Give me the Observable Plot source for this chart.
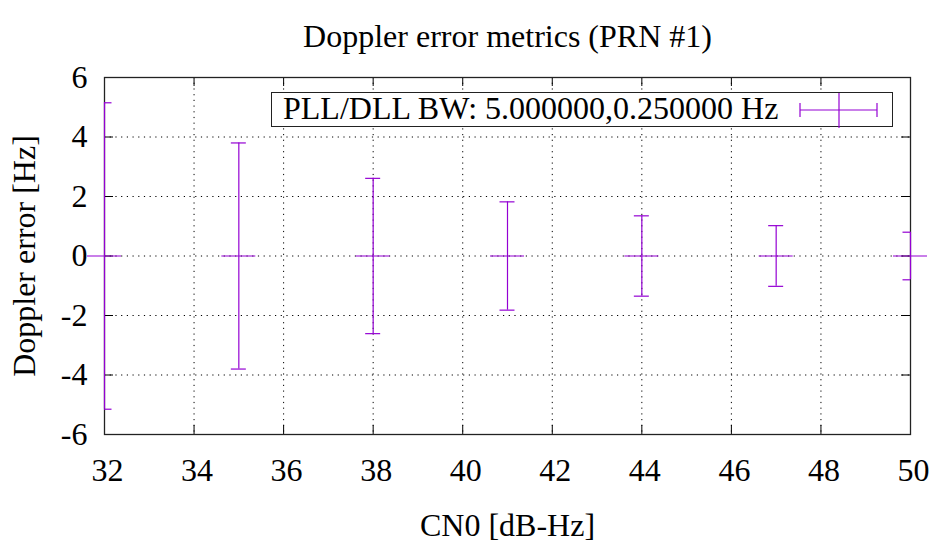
<!DOCTYPE html>
<html>
<head>
<meta charset="utf-8">
<script src="https://cdn.jsdelivr.net/npm/d3@7"></script>
<script src="https://cdn.jsdelivr.net/npm/@observablehq/plot@0.6"></script>
<style>
  html, body { margin: 0; padding: 0; background: #fff; }
  #wrap { position: relative; width: 932px; height: 542px; font-family: "Liberation Serif", "DejaVu Serif", serif; }
  #legend { position: absolute; left: 271px; top: 92px; width: 622px; height: 35px; border: 1.3px solid #222; background: #fff; box-sizing: border-box; }
  #legend span { position: absolute; left: 11px; top: -3px; font-size: 32px; line-height: 36px; color: #000; white-space: nowrap; }
  #legend svg { position: absolute; left: 526px; top: -1px; }
</style>
</head>
<body>
<div id="wrap"></div>
<script>
// ---- data ----
const cn0 = [32, 35, 38, 41, 44, 47, 50];
const meanErr = [0, 0, 0, 0, 0, 0, 0];
const stdErr = [5.15, 3.80, 2.61, 1.82, 1.35, 1.02, 0.80];
const xTicks = [32, 34, 36, 38, 40, 42, 44, 46, 48, 50];
const yTicks = [-6, -4, -2, 0, 2, 4, 6];
const titleText = "Doppler error metrics (PRN #1)";
const xLabel = "CN0 [dB-Hz]";
const yLabel = "Doppler error [Hz]";
const legendText = "PLL/DLL BW: 5.000000,0.250000 Hz";

const data = cn0.map((x, i) => ({x, m: meanErr[i], s: stdErr[i]}));

const W = 932, H = 542;
const mL = 104, mR = 22, mT = 77, mB = 108;
const innerW = W - mL - mR, innerH = H - mT - mB;
const color = "#9400d3";
const tickLen = 9;
const fs = 32;

const chart = Plot.plot({
  width: W,
  height: H,
  marginLeft: mL, marginRight: mR, marginTop: mT, marginBottom: mB,
  style: {fontFamily: "'Liberation Serif', 'DejaVu Serif', serif", fontSize: fs + "px", color: "#000", background: "#fff"},
  x: {domain: [32, 50]},
  y: {domain: [-6, 6]},
  marks: [
    Plot.gridX(xTicks, {stroke: "#000", strokeOpacity: 1, strokeDasharray: "1.2,4.5", strokeWidth: 1}),
    Plot.gridY(yTicks, {stroke: "#000", strokeOpacity: 1, strokeDasharray: "1.2,4.5", strokeWidth: 1}),
    // inward ticks (mirrored)
    Plot.tickX(xTicks, {x: d => d, insetTop: innerH - tickLen, stroke: "#000"}),
    Plot.tickX(xTicks, {x: d => d, insetBottom: innerH - tickLen, stroke: "#000"}),
    Plot.tickY(yTicks, {y: d => d, insetRight: innerW - tickLen, stroke: "#000"}),
    Plot.tickY(yTicks, {y: d => d, insetLeft: innerW - tickLen, stroke: "#000"}),
    Plot.frame({stroke: "#222", strokeWidth: 1.3}),
    Plot.axisX(xTicks, {tickSize: 0, tickPadding: 24, dx: 3, tickFormat: d => String(d), fontSize: fs,
      label: null}),
    Plot.axisX({label: xLabel, labelAnchor: "center", labelArrow: "none", labelOffset: 101, ticks: [], tickSize: 0, fontSize: fs}),
    Plot.axisY(yTicks, {tickSize: 0, tickPadding: 17, tickFormat: d => String(d), fontSize: fs,
      label: yLabel, labelAnchor: "center", labelArrow: "none", labelOffset: 92}),
    // error bars
    Plot.ruleX(data, {x: "x", y1: d => d.m - d.s, y2: d => d.m + d.s, stroke: color, strokeWidth: 1.2}),
    Plot.ruleY(data, {y: d => d.m + d.s, x1: "x", x2: "x", insetLeft: -7.5, insetRight: -7.5, stroke: color, strokeWidth: 1.2, clip: true}),
    Plot.ruleY(data, {y: d => d.m - d.s, x1: "x", x2: "x", insetLeft: -7.5, insetRight: -7.5, stroke: color, strokeWidth: 1.2, clip: true}),
    // "+" point markers
    Plot.ruleY(data, {y: "m", x1: "x", x2: "x", insetLeft: -17, insetRight: -17, stroke: color, strokeWidth: 1.2}),
    // title
    Plot.text([titleText], {text: d => d, frameAnchor: "top", dy: -31, lineAnchor: "bottom", fontSize: fs, fill: "#000"})
  ]
});

const wrap = document.getElementById("wrap");
wrap.appendChild(chart);

// legend
const leg = document.createElement("div");
leg.id = "legend";
leg.innerHTML = `<span>${legendText}</span>
<svg width="85" height="37"><line x1="2" x2="79" y1="18" y2="18" stroke="${color}" stroke-width="1.2"/>
<line x1="41" x2="41" y1="1" y2="36" stroke="${color}" stroke-width="1.2"/>
<line x1="2" x2="2" y1="11" y2="25" stroke="${color}" stroke-width="1.2"/>
<line x1="79" x2="79" y1="11" y2="25" stroke="${color}" stroke-width="1.2"/></svg>`;
wrap.appendChild(leg);
</script>
</body>
</html>
